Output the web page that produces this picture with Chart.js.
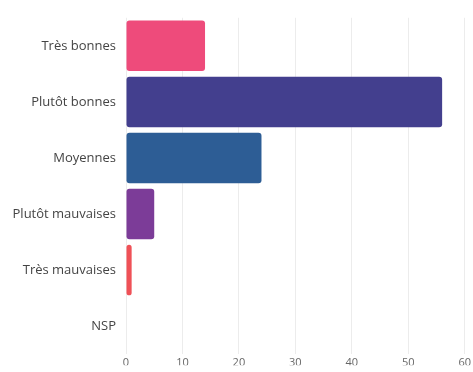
<!DOCTYPE html>
<html>
<head>
<meta charset="utf-8">
<script src="https://cdn.jsdelivr.net/npm/chart.js@4/dist/chart.umd.min.js"></script>
<style>
  html, body { margin: 0; padding: 0; background: #fff; }
  #wrap { width: 473px; height: 372px; }
</style>
</head>
<body>
<div id="wrap"><canvas id="opinionChart" width="473" height="372"></canvas></div>
<script>
const categories = ["Très bonnes", "Plutôt bonnes", "Moyennes", "Plutôt mauvaises", "Très mauvaises", "NSP"];
const values = [14, 56, 24, 5, 1, 0];
const barColors = ["#EE4B7B", "#433F8E", "#2D5D95", "#7C3C98", "#EF5157", "#999999"];
const xTicks = [0, 10, 20, 30, 40, 50, 60];

const ctx = document.getElementById("opinionChart").getContext("2d");

new Chart(ctx, {
    type: "bar",
    data: {
        labels: categories,
        datasets: [
            {
                data: values,
                backgroundColor: barColors,
                borderRadius: 3,
                borderSkipped: false,
            },
        ],
    },
    options: {
        indexAxis: "y",
        responsive: false,
        animation: false,
        layout: {
            padding: { top: 13, right: 0, bottom: 0, left: 0 },
        },
        barPercentage: 1,
        categoryPercentage: 0.9,
        scales: {
            x: {
                min: 0,
                max: 60,
                afterBuildTicks: (scale) => {
                    scale.ticks = xTicks.map((v) => ({ value: v }));
                },
                afterFit: (scale) => {
                    scale.height = 11;
                },
                grid: {
                    color: "#ececec",
                    drawTicks: false,
                },
                border: { display: false },
                ticks: {
                    padding: 2,
                    color: "#666",
                    font: { family: "Open Sans", size: 11 },
                },
            },
            y: {
                grid: { display: false, drawTicks: false },
                border: { display: false },
                afterFit: (scale) => {
                    scale.width = 126;
                },
                ticks: {
                    padding: 10,
                    color: "#444",
                    font: { family: "Open Sans", size: 13 },
                },
            },
        },
        plugins: {
            legend: { display: false },
            tooltip: { enabled: false },
        },
    },
});
</script>
</body>
</html>
